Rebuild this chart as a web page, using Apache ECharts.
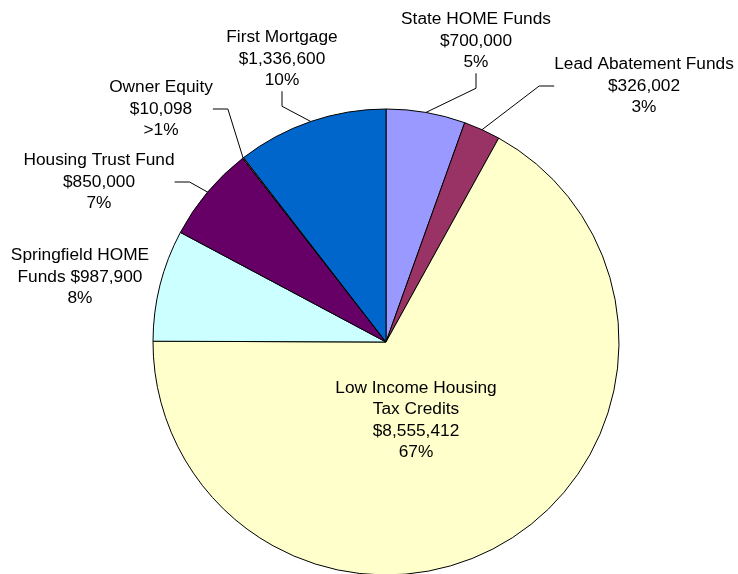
<!DOCTYPE html>
<html>
<head>
<meta charset="utf-8">
<script src="https://cdn.jsdelivr.net/npm/echarts@6/dist/echarts.min.js"></script>
<style>
html,body{margin:0;padding:0;background:#fff;}
#chart{width:738px;height:574px;}
</style>
</head>
<body>
<div id="chart"></div>
<script>
// Data (clockwise from 12 o'clock)
var categories = ['State HOME Funds', 'Lead Abatement Funds', 'Low Income Housing\nTax Credits', 'Springfield HOME\nFunds', 'Housing Trust Fund', 'Owner Equity', 'First Mortgage'];
var values = [700000, 326002, 8555412, 987900, 850000, 10098, 1336600];
var valueLabels = ['$700,000', '$326,002', '$8,555,412', '$987,900', '$850,000', '$10,098', '$1,336,600'];
var pctLabels = ['5%', '3%', '67%', '8%', '7%', '>1%', '10%'];

// Styling / layout
var colors = ['#9999FF', '#993366', '#FFFFCC', '#CCFFFF', '#660066', '#FF8080', '#0066CC'];
var labelPos = [[476, 41], [644, 86], [416, 420], [80, 277], [99, 182], [161, 109], [282, 59]];
var showLine = [true, true, false, false, true, true, true];

function labelText(i) {
  if (i === 3) return categories[i] + ' ' + valueLabels[i] + '\n' + pctLabels[i];
  return categories[i] + '\n' + valueLabels[i] + '\n' + pctLabels[i];
}

var data = values.map(function (v, i) {
  return {
    name: categories[i],
    value: v,
    itemStyle: { color: colors[i] },
    label: { formatter: labelText(i) },
    labelLine: { show: showLine[i] }
  };
});

var chart = echarts.init(document.getElementById('chart'), null, { renderer: 'canvas' });
chart.setOption({
  animation: false,
  backgroundColor: '#ffffff',
  series: [{
    type: 'pie',
    center: [386, 342],
    radius: 233,
    startAngle: 90,
    clockwise: true,
    avoidLabelOverlap: false,
    minShowLabelAngle: 0,
    itemStyle: { borderColor: '#000000', borderWidth: 1 },
    emphasis: { disabled: true },
    label: {
      show: true,
      position: 'outside',
      color: '#000000',
      fontFamily: 'Liberation Sans, Arial, sans-serif',
      fontSize: 17.3,
      lineHeight: 21.5,
      align: 'center'
    },
    labelLine: {
      show: true,
      length: 10,
      length2: 15,
      smooth: false,
      lineStyle: { color: '#000000', width: 1 }
    },
    labelLayout: function (params) {
      var p = labelPos[params.dataIndex];
      return { x: p[0], y: p[1], align: 'center', verticalAlign: 'middle', hideOverlap: false };
    },
    data: data
  }]
});
</script>
</body>
</html>
